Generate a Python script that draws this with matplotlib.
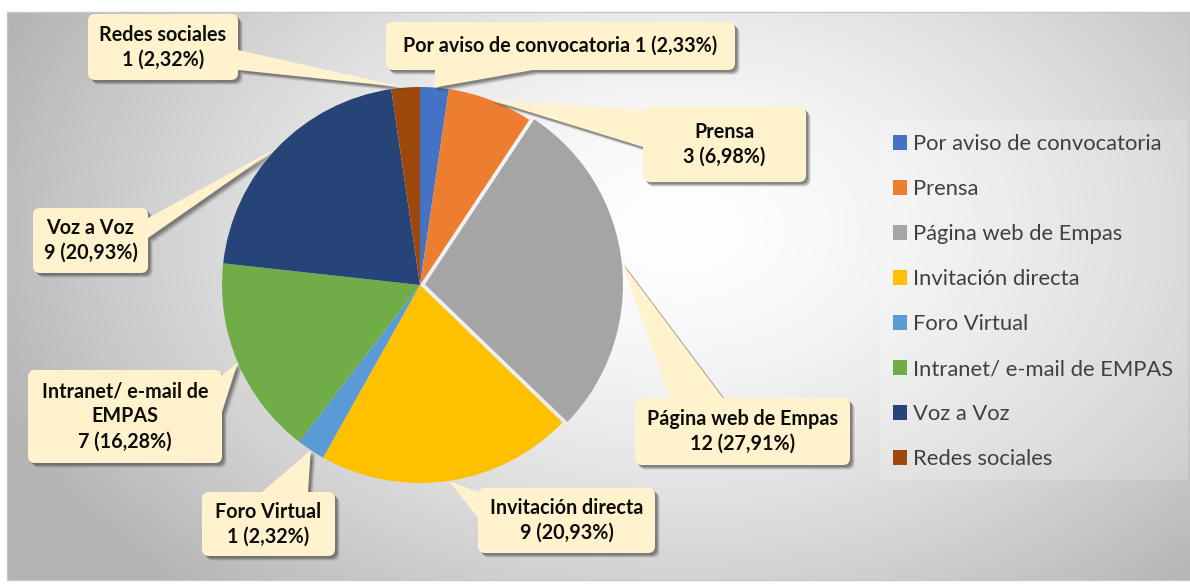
import matplotlib
matplotlib.use('Agg')
import matplotlib.pyplot as plt
import numpy as np
from matplotlib.patches import FancyBboxPatch, Polygon, Rectangle

# datos
categorias = ['Por aviso de convocatoria', 'Prensa', 'Página web de Empas', 'Invitación directa',
              'Foro Virtual', 'Intranet/ e-mail de EMPAS', 'Voz a Voz', 'Redes sociales']
valores = [1, 3, 12, 9, 1, 7, 9, 1]
porcentajes = ['2,33', '6,98', '27,91', '20,93', '2,32', '16,28', '20,93', '2,32']
etiquetas = ['Por aviso de convocatoria', 'Prensa', 'Página web de Empas', 'Invitación directa',
             'Foro Virtual', 'Intranet/ e-mail de\nEMPAS', 'Voz a Voz', 'Redes sociales']
colores = ['#4472C4', '#ED7D31', '#A5A5A5', '#FFC000', '#5B9BD5', '#70AD47', '#264478', '#9E480E']

W, H = 1190, 584
FONT = 'Lato'
CREMA = '#FFF2CC'

# cajas de las etiquetas en pixeles de imagen (x0, y0, x1, y1) y base del puntero
cajas = [
    ((386, 22, 735, 70), ((435, 70), (533, 70))),
    ((643, 107, 806, 182), ((643, 110), (643, 147))),
    ((635, 398, 850, 465), ((670, 398), (723, 398))),
    ((478, 488, 655, 553), ((478, 492), (478, 518))),
    ((202, 492, 335, 556), ((262, 492), (308, 492))),
    ((28, 370, 222, 463), ((222, 375), (222, 412))),
    ((33, 208, 148, 273), ((148, 218), (148, 238))),
    ((88, 14, 238, 80), ((238, 50), (238, 70))),
]


def Y(y):
    return H - y


fig = plt.figure(figsize=(W / 100, H / 100), dpi=100)
ax = fig.add_axes([0, 0, 1, 1])

# fondo con degradado radial
x0, y0, x1, y1 = 7, 12, 1190, 580
gx, gy = np.meshgrid(np.arange(x0, x1), np.arange(y0, y1))
r = np.sqrt(((gx - 680) / 640.0) ** 2 + ((gy - 230) / 430.0) ** 2)
g = 1 - 0.24 * np.clip(r, 0, 1.15) ** 1.5
img = np.dstack([g, g, g])
ax.imshow(img, extent=(x0, x1, Y(y1), Y(y0)), origin='upper', zorder=0, aspect='auto')
ax.add_patch(Rectangle((x0, Y(y1)), x1 - x0, y1 - y0, fill=False, edgecolor='#c8c8c8', lw=1, zorder=1))

# fondo de la leyenda
ax.add_patch(Rectangle((880, Y(480)), 308, 360, facecolor='white', alpha=0.18, edgecolor='none', zorder=1))

wedges, _ = ax.pie(valores, colors=colores, startangle=90, counterclock=False,
                   explode=[0, 0, 5, 0, 0, 0, 0, 0], center=(420, Y(285)), radius=198,
                   wedgeprops=dict(linewidth=0))
for w in wedges:
    w.set_zorder(2)

# etiquetas tipo globo
for i, w in enumerate(wedges):
    (bx0, by0, bx1, by1), (p1, p2) = cajas[i]
    tm = np.deg2rad((w.theta1 + w.theta2) / 2)
    ax_ = w.center[0] + w.r * np.cos(tm)
    ay_ = w.center[1] + w.r * np.sin(tm)
    tri = [(ax_, ay_), (p1[0], Y(p1[1])), (p2[0], Y(p2[1]))]
    for k, a in [(5, 0.10), (4, 0.2), (3, 0.28), (2, 0.32)]:
        ax.add_patch(FancyBboxPatch((bx0 + k, Y(by1) - k), bx1 - bx0, by1 - by0,
                                    boxstyle='round,pad=0,rounding_size=7',
                                    facecolor='#4a4a4a', edgecolor='none', alpha=a, zorder=3))
        ax.add_patch(Polygon([(px + k, py - k) for px, py in tri], closed=True,
                             facecolor='#4a4a4a', edgecolor='none', alpha=a, zorder=3))
    ax.add_patch(Polygon(tri, closed=True, facecolor=CREMA, edgecolor='none', zorder=4))
    ax.add_patch(FancyBboxPatch((bx0, Y(by1)), bx1 - bx0, by1 - by0,
                                boxstyle='round,pad=0,rounding_size=7',
                                facecolor=CREMA, edgecolor='none', zorder=4))
    sep = ' ' if i == 0 else '\n'
    txt = f'{etiquetas[i]}{sep}{valores[i]} ({porcentajes[i]}%)'
    ax.text((bx0 + bx1) / 2, Y((by0 + by1) / 2), txt, ha='center', va='center',
            fontsize=14.2, fontweight='bold', family=FONT, color='#0d0d0d',
            linespacing=1.3, zorder=5)

ax.legend(wedges, categorias, loc='upper left', bbox_to_anchor=(893 / W, 1 - 134 / H),
          frameon=False, borderpad=0, handlelength=0.65, handleheight=0.65,
          handletextpad=0.25, labelspacing=1.14, borderaxespad=0,
          prop=dict(family=FONT, size=15.8), labelcolor='#404040')

ax.set_xlim(0, W)
ax.set_ylim(0, H)
ax.set_aspect('auto')
ax.axis('off')

fig.savefig('out.png', dpi=100, facecolor='white')
